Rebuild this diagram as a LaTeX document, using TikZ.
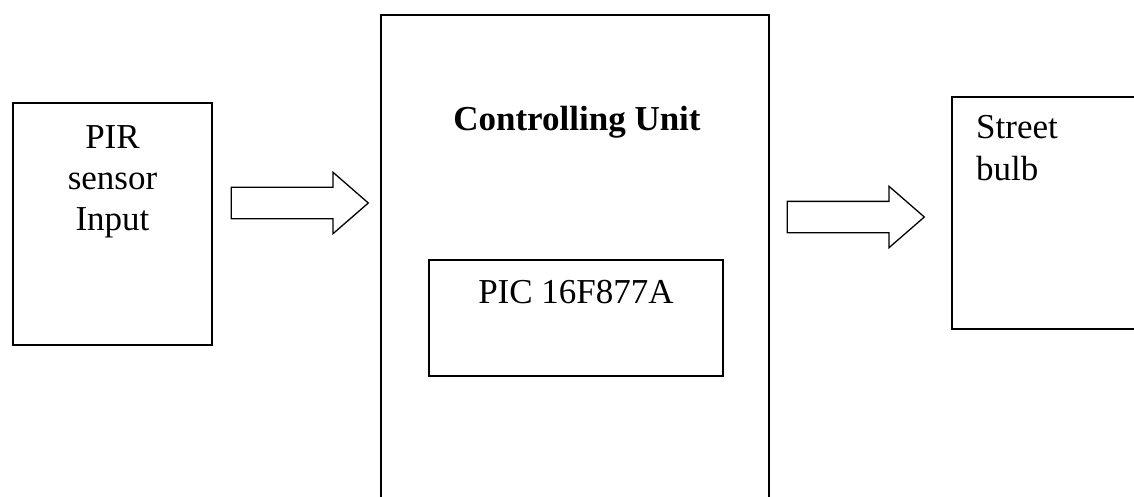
\documentclass[tikz,border=0pt]{standalone}
\usepackage{fontspec}
\setmainfont{Liberation Serif}
\usepackage{tikz}
\usetikzlibrary{shapes.arrows, positioning}

\begin{document}
\begin{tikzpicture}[
  x=1pt, y=-1pt,
  font=\fontsize{35}{41}\selectfont,
  blok/.style={draw, line width=1.3pt, inner sep=0pt},
  tx/.style={align=center, inner sep=0pt, anchor=base},
  str/.style={draw, line width=1.3pt, single arrow, single arrow head extend=15pt,
              single arrow head indent=0pt, single arrow tip angle=82,
              inner xsep=0pt, inner ysep=15pt, text height=0pt, text depth=0pt,
              minimum height=137pt}
]
  \useasboundingbox (0,0) rectangle (1134,497);
  \clip (0,0) rectangle (1134,497);

  % bloky
  \node[blok, minimum width=199pt, minimum height=242pt] (pir) at (112.5,224) {};
  \node[blok, minimum width=388pt, minimum height=505pt] (ctrl) at (575,267.5) {};
  \node[blok, minimum width=294pt, minimum height=116pt] (pic) at (576,318) {};
  \node[blok, minimum width=199pt, minimum height=232pt] (bulb) at (1051.5,213) {};

  % texty
  \node[tx] (pirtx) at (112.5,230) {PIR\\sensor\\Input};
  \node[tx, font=\fontsize{35}{41}\selectfont\bfseries] (ctrltx) at (577,131) {Controlling Unit};
  \node[tx] (pictx) at (576,303) {PIC 16F877A};
  \node[tx, align=left, anchor=base west] (bulbtx) at (976,180) {Street\\bulb};

  % sipky
  \node[str, right=18pt of pir, yshift=21pt] (s1) {};
  \node[str, right=17pt of ctrl, yshift=50.5pt] (s2) {};
\end{tikzpicture}
\end{document}
